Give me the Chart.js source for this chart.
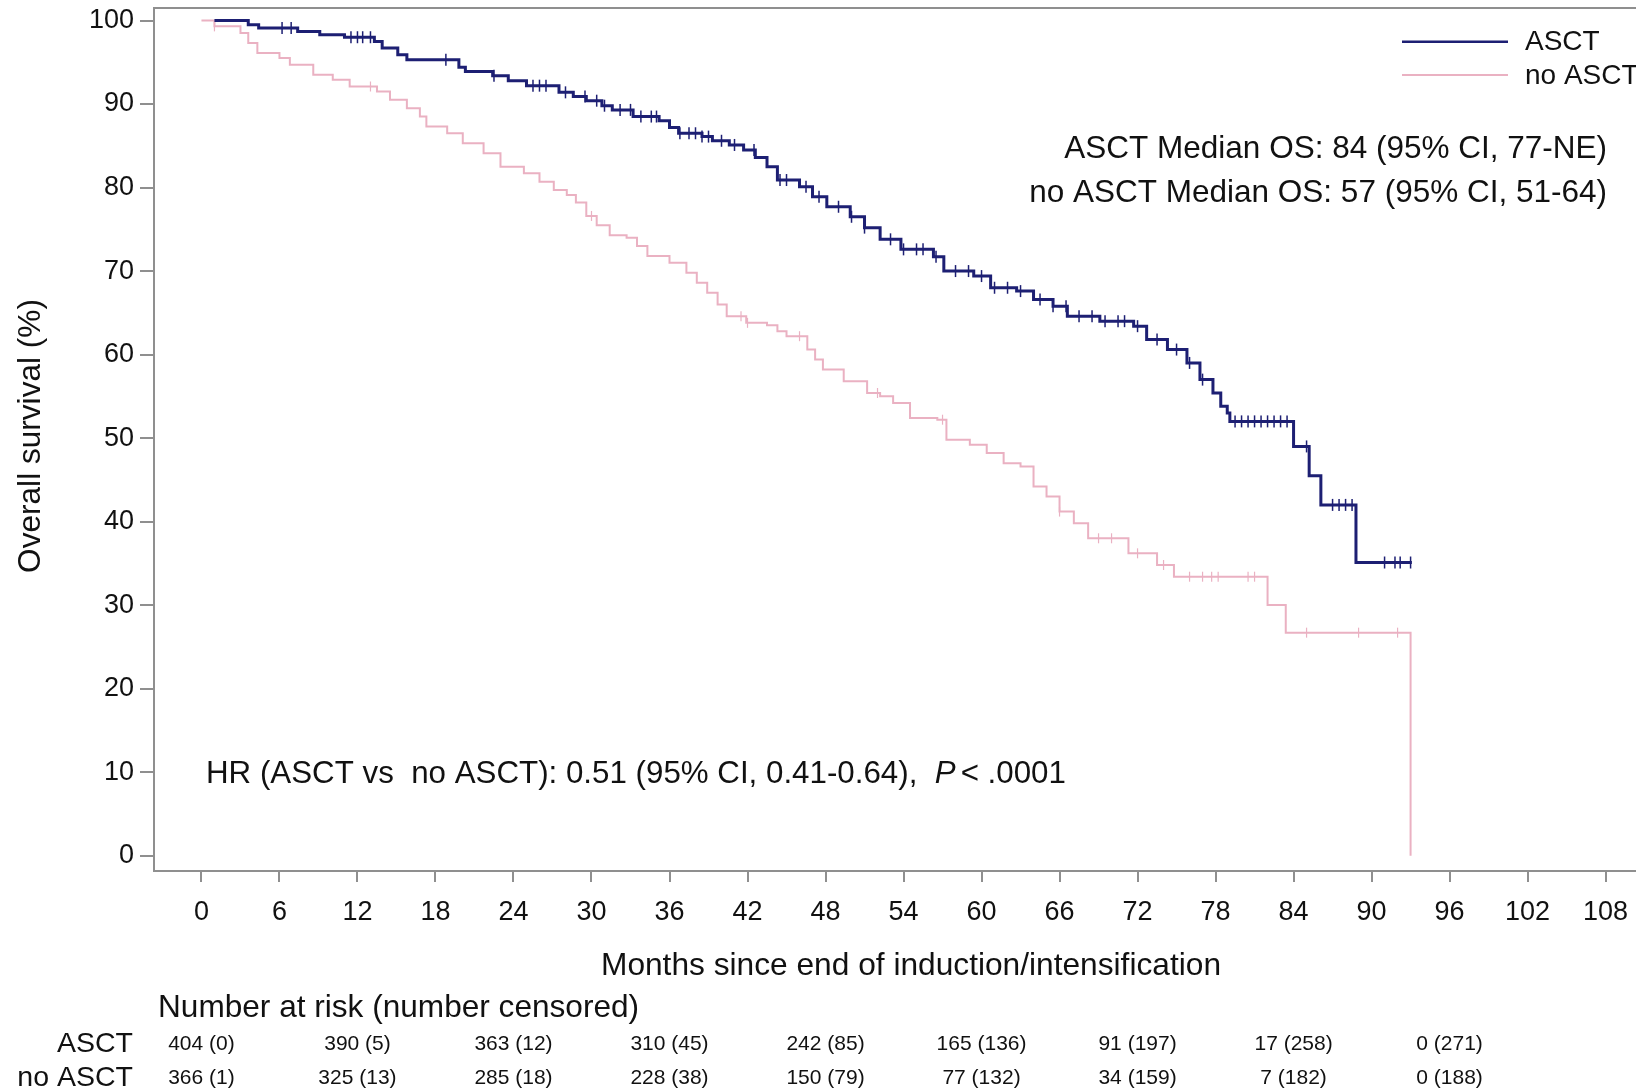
<!DOCTYPE html>
<html>
<head>
<meta charset="utf-8">
<script src="https://cdn.jsdelivr.net/npm/chart.js@4.4.1/dist/chart.umd.min.js"></script>
<style>
  html, body { margin: 0; padding: 0; background: #fff; overflow: hidden; }
  canvas { display: block; }
</style>
</head>
<body>
<canvas id="kmChart" width="1680" height="1090"></canvas>
<script>
// Kaplan-Meier steps (months, % surviving)
const asctMonths = [1.0, 3.6, 4.4, 7.4, 9.1, 11.0, 13.3, 13.9, 15.1, 15.8, 19.8, 20.3, 22.4, 23.6, 25.0,
  27.5, 28.6, 29.6, 30.8, 31.6, 33.2, 35.2, 36.0, 36.7, 38.5, 39.3, 40.6, 41.7, 42.6, 43.5, 44.3,
  46.0, 47.0, 48.1, 49.9, 51.0, 52.2, 53.8, 56.3, 57.1, 59.4, 60.7, 62.7, 64.0, 65.5, 66.6, 69.1,
  71.7, 72.7, 74.3, 75.8, 76.8, 77.8, 78.4, 78.9, 79.1, 84.0, 85.2, 86.1, 88.8, 93.1];
const asctSurvival = [100, 99.5, 99.1, 98.7, 98.3, 98.0, 97.5, 96.7, 95.9, 95.3, 94.4, 93.9, 93.4, 92.8, 92.2,
  91.4, 90.9, 90.4, 89.8, 89.3, 88.5, 88.0, 87.2, 86.5, 86.1, 85.6, 85.1, 84.5, 83.6, 82.5, 80.9,
  80.1, 78.9, 77.7, 76.5, 75.2, 73.8, 72.6, 71.7, 70.0, 69.4, 68.0, 67.6, 66.6, 65.8, 64.6, 64.0,
  63.4, 61.8, 60.6, 59.0, 57.0, 55.4, 53.8, 53.0, 52.0, 49.0, 45.5, 42.0, 35.1, 35.1];

const noAsctMonths = [0, 1.0, 3.0, 3.6, 4.3, 6.0, 6.8, 8.6, 10.1, 11.4, 13.5, 14.5, 15.8, 16.8, 17.3,
  18.9, 20.1, 21.7, 23.0, 24.8, 26.0, 27.1, 28.1, 28.8, 29.6, 30.4, 31.4, 32.7, 33.5, 34.3, 36.0,
  37.3, 38.1, 38.9, 39.7, 40.4, 41.9, 43.5, 44.3, 45.0, 46.6, 47.2, 47.8, 49.4, 51.2, 52.2, 53.2,
  54.5, 56.6, 57.3, 59.1, 60.4, 61.7, 63.0, 64.0, 65.0, 66.0, 67.1, 68.2, 71.3, 73.5, 74.8, 82.0,
  83.4, 93.0];
const noAsctSurvival = [100, 99.3, 98.5, 97.3, 96.1, 95.5, 94.7, 93.5, 92.9, 92.1, 91.5, 90.5, 89.5, 88.5, 87.3,
  86.5, 85.3, 84.1, 82.5, 81.7, 80.7, 79.7, 79.1, 78.2, 76.6, 75.5, 74.3, 74.0, 73.0, 71.8, 71.0,
  69.8, 68.6, 67.4, 66.0, 64.6, 63.8, 63.5, 62.8, 62.2, 60.6, 59.4, 58.2, 56.8, 55.4, 55.0, 54.2,
  52.4, 52.2, 49.8, 49.2, 48.2, 47.0, 46.6, 44.2, 43.0, 41.2, 39.8, 38.0, 36.2, 34.8, 33.4, 30.0,
  26.7, 0];

// censoring marks (months)
const asctCensorMonths = [6.2, 6.9, 11.5, 12.0, 12.4, 13.0, 18.8, 22.5, 25.5, 26.0, 26.5, 28.0, 29.5, 30.4,
  31.0, 32.2, 33.0, 33.8, 34.6, 35.0, 36.8, 37.5, 38.0, 38.5, 39.0, 40.0, 41.0, 42.5, 44.5, 45.0,
  46.5, 47.5, 49.0, 50.0, 51.0, 53.0, 54.0, 55.0, 55.5, 56.5, 58.0, 59.0, 60.0, 61.0, 62.0, 63.0,
  64.5, 65.5, 66.5, 67.5, 68.5, 69.5, 70.5, 71.0, 72.0, 73.5, 75.0, 76.0, 77.0, 79.5, 80.0, 80.5,
  81.0, 81.5, 82.0, 82.5, 83.0, 83.5, 85.0, 87.0, 87.5, 88.0, 88.5, 91.0, 91.8, 92.2, 93.0];
const noAsctCensorMonths = [1.0, 13.0, 30.0, 41.5, 42.0, 46.0, 52.0, 57.0, 66.0, 69.0, 70.0, 72.0, 74.0,
  76.0, 77.0, 77.7, 78.2, 80.5, 81.0, 85.0, 89.0, 92.0];

const xTicks = [0, 6, 12, 18, 24, 30, 36, 42, 48, 54, 60, 66, 72, 78, 84, 90, 96, 102, 108];
const yTicks = [0, 10, 20, 30, 40, 50, 60, 70, 80, 90, 100];

const riskMonths = [0, 12, 24, 36, 48, 60, 72, 84, 96];
const asctAtRisk = [404, 390, 363, 310, 242, 165, 91, 17, 0];
const asctCensoredCount = [0, 5, 12, 45, 85, 136, 197, 258, 271];
const noAsctAtRisk = [366, 325, 285, 228, 150, 77, 34, 7, 0];
const noAsctCensoredCount = [1, 13, 18, 38, 79, 132, 159, 182, 188];

const NAVY = '#1d1f73';
const PINK = '#eab1c2';
const FONT = '"Liberation Sans", Arial, sans-serif';

function toPoints(xs, ys) {
  return xs.map((x, i) => ({ x: x, y: ys[i] }));
}
function survivalAt(xs, ys, t) {
  let s = ys[0];
  for (let i = 0; i < xs.length; i++) if (xs[i] <= t) s = ys[i];
  return s;
}
function censorPoints(ts, xs, ys) {
  return ts.map(t => ({ x: t, y: survivalAt(xs, ys, t) }));
}

const overlay = {
  id: 'overlay',
  beforeDatasetsDraw(chart) {
    const { ctx, chartArea: a } = chart;
    ctx.save();
    ctx.strokeStyle = '#8f8f8f';
    ctx.lineWidth = 2;
    ctx.strokeRect(a.left, a.top, a.right - a.left, a.bottom - a.top);
    ctx.restore();
  },
  afterDraw(chart) {
    const { ctx, scales: { x } } = chart;
    ctx.save();
    ctx.fillStyle = '#111';
    ctx.textBaseline = 'middle';

    // y axis title
    ctx.save();
    ctx.translate(31, 436);
    ctx.rotate(-Math.PI / 2);
    ctx.font = '31.6px ' + FONT; ctx.textAlign = 'center';
    ctx.fillText('Overall survival (%)', 0, 0);
    ctx.restore();

    // legend
    [[NAVY, 'ASCT', 41.7, 2.5], [PINK, 'no ASCT', 75, 2]].forEach(([c, t, y, w]) => {
      ctx.strokeStyle = c; ctx.lineWidth = w;
      ctx.beginPath(); ctx.moveTo(1402, y); ctx.lineTo(1508, y); ctx.stroke();
      ctx.font = '28px ' + FONT; ctx.textAlign = 'left';
      ctx.fillText(t, 1525, y + 1);
    });

    // medians
    ctx.font = '31.5px ' + FONT; ctx.textAlign = 'right';
    ctx.fillText('ASCT Median OS: 84 (95% CI, 77-NE)', 1607, 149);
    ctx.fillText('no ASCT Median OS: 57 (95% CI, 51-64)', 1607, 193);

    // hazard ratio
    ctx.textAlign = 'left';
    let hx = 206;
    const part1 = 'HR (ASCT vs  no ASCT): 0.51 (95% CI, 0.41-0.64),  ';
    ctx.font = '31.3px ' + FONT;
    ctx.fillText(part1, hx, 774);
    hx += ctx.measureText(part1).width;
    ctx.font = 'italic 31.3px ' + FONT;
    ctx.fillText('P', hx, 774);
    hx += ctx.measureText('P').width + 5;
    ctx.font = '31.3px ' + FONT;
    ctx.fillText('< .0001', hx, 774);

    // number at risk table
    ctx.font = '31.6px ' + FONT; ctx.textAlign = 'left';
    ctx.fillText('Number at risk (number censored)', 158, 1008);
    ctx.font = '28.5px ' + FONT; ctx.textAlign = 'right';
    ctx.fillText('ASCT', 133, 1044);
    ctx.fillText('no ASCT', 133, 1078);
    ctx.font = '21px ' + FONT; ctx.textAlign = 'center';
    riskMonths.forEach((m, i) => {
      const px = x.getPixelForValue(m);
      ctx.fillText(asctAtRisk[i] + ' (' + asctCensoredCount[i] + ')', px, 1044);
      ctx.fillText(noAsctAtRisk[i] + ' (' + noAsctCensoredCount[i] + ')', px, 1078);
    });
    ctx.restore();
  }
};

new Chart(document.getElementById('kmChart').getContext('2d'), {
  type: 'line',
  data: {
    datasets: [
      {
        label: 'ASCT',
        data: toPoints(asctMonths, asctSurvival),
        borderColor: NAVY, borderWidth: 3, stepped: true,
        pointRadius: 0, fill: false
      },
      {
        label: 'no ASCT',
        data: toPoints(noAsctMonths, noAsctSurvival),
        borderColor: PINK, borderWidth: 2, stepped: true,
        pointRadius: 0, fill: false
      },
      {
        label: 'ASCT censored',
        data: censorPoints(asctCensorMonths, asctMonths, asctSurvival),
        showLine: false, pointStyle: 'line', rotation: 90,
        pointRadius: 6, borderColor: NAVY, pointBorderWidth: 1.5
      },
      {
        label: 'no ASCT censored',
        data: censorPoints(noAsctCensorMonths, noAsctMonths, noAsctSurvival),
        showLine: false, pointStyle: 'line', rotation: 90,
        pointRadius: 5, borderColor: PINK, pointBorderWidth: 1.2
      }
    ]
  },
  options: {
    responsive: false,
    animation: false,
    devicePixelRatio: 1,
    layout: { padding: { left: 0, top: 8, right: 12, bottom: 0 } },
    plugins: { legend: { display: false }, tooltip: { enabled: false } },
    scales: {
      x: {
        type: 'linear', min: -3.65, max: 112.8,
        afterBuildTicks: s => { s.ticks = xTicks.map(v => ({ value: v })); },
        afterFit: s => { s.height = 219; s.paddingLeft = 0; s.paddingRight = 0; },
        grid: { drawOnChartArea: false, drawTicks: true, tickLength: 11, color: '#8f8f8f', lineWidth: 2 },
        border: { display: false },
        ticks: { color: '#111', padding: 14, maxRotation: 0, autoSkip: false, font: { family: FONT, size: 27 } },
        title: {
          display: true, text: 'Months since end of induction/intensification',
          color: '#111', font: { family: FONT, size: 31.7 }, padding: { top: 0, bottom: 105 }
        }
      },
      y: {
        type: 'linear', min: -1.84, max: 101.5,
        afterBuildTicks: s => { s.ticks = yTicks.map(v => ({ value: v })); },
        afterFit: s => { s.width = 154; s.paddingTop = 0; s.paddingBottom = 0; },
        grid: { drawOnChartArea: false, drawTicks: true, tickLength: 14, color: '#8f8f8f', lineWidth: 2 },
        border: { display: false },
        ticks: { color: '#111', padding: 6, font: { family: FONT, size: 27 } },
        title: { display: false }
      }
    }
  },
  plugins: [overlay]
});
</script>
</body>
</html>
